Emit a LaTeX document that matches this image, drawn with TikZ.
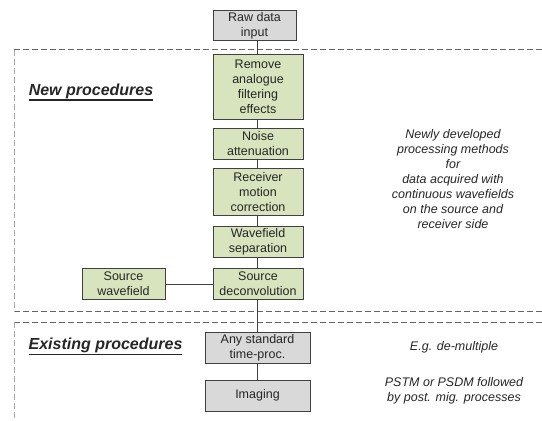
\documentclass[tikz,border=0pt]{standalone}
\usepackage{fontspec}
\setmainfont{Liberation Sans}
\newcommand{\headul}[1]{\vtop{\hbox{#1}\kern1pt\hrule height 1.1pt}}
\definecolor{boxgreen}{HTML}{D7E4BD}
\definecolor{boxgray}{HTML}{D9D9D9}
\definecolor{edge}{HTML}{404040}
\definecolor{txt}{HTML}{262626}
\begin{document}
\begin{tikzpicture}[x=1pt, y=-1pt, font=\fontsize{12.5}{15}\selectfont, text=txt,
  stage/.style={draw=edge, line width=0.9pt, align=center, inner sep=0pt},
  newstage/.style={stage, fill=boxgreen},
  oldstage/.style={stage, fill=boxgray},
  zone/.style={draw=black!60, line width=0.9pt, dash pattern=on 6pt off 3pt},
  link/.style={draw=edge, line width=0.9pt},
  note/.style={align=center, font=\fontsize{12.5}{15}\selectfont\itshape},
  heading/.style={font=\fontsize{16}{19}\selectfont\bfseries\itshape}]
\useasboundingbox (0,0) rectangle (542,421);
% Bereiche (rechts abgeschnitten)
\begin{scope}
\clip (0,0) rectangle (542,421);
\draw[zone] (14,49.5) -- (560,49.5); \draw[zone] (14,311) -- (560,311);
\draw[zone, draw=black!35] (14,49.5) -- (14,311);
\draw[zone] (14,322) -- (560,322);
\draw[zone, draw=black!35] (14,322) -- (14,430);
\end{scope}
% Verarbeitungsschritte
\node[oldstage, minimum width=83pt, minimum height=30pt] (raw) at (254.5,25.5) {Raw data\\input};
\node[newstage, minimum width=90pt, minimum height=65pt] (remove) at (258,87) {Remove\\analogue\\filtering\\effects};
\node[newstage, minimum width=90pt, minimum height=31pt] (noise) at (258,144) {Noise\\attenuation};
\node[newstage, minimum width=90pt, minimum height=47.5pt] (receiver) at (258,192) {Receiver\\motion\\correction};
\node[newstage, minimum width=90pt, minimum height=31pt] (wavefield) at (258,241.5) {Wavefield\\separation};
\node[newstage, minimum width=90pt, minimum height=31pt] (srcdec) at (258,284) {Source\\deconvolution};
\node[newstage, minimum width=83pt, minimum height=31pt] (srcwf) at (123.5,284) {Source\\wavefield};
\node[oldstage, minimum width=105pt, minimum height=31pt] (anystd) at (257.5,348) {Any standard\\time-proc.};
\node[oldstage, minimum width=105pt, minimum height=31pt] (imaging) at (257.5,395.5) {Imaging};
% Verbindungen
\coordinate (spine) at (257,0);
\draw[link] (raw.south -| spine) -- (remove.north -| spine);
\draw[link] (remove.south -| spine) -- (noise.north -| spine);
\draw[link] (noise.south -| spine) -- (receiver.north -| spine);
\draw[link] (receiver.south -| spine) -- (wavefield.north -| spine);
\draw[link] (wavefield.south -| spine) -- (srcdec.north -| spine);
\draw[link] (srcdec.south -| spine) -- (anystd.north -| spine);
\draw[link] (anystd.south -| spine) -- (imaging.north -| spine);
\draw[link] (srcwf) -- (srcdec);
% Beschriftungen
\node[heading] (newlbl) at (91,92) {\headul{New procedures}};
\node[heading] (oldlbl) at (105.5,346.5) {\headul{Existing procedures}};
\node[note] (newnote) at (453,179) {Newly developed\\processing methods\\for\\data acquired with\\continuous wavefields\\on the source and\\receiver side};
\node[note] (eg) at (454,347) {E.g. de-multiple};
\node[note] (pstm) at (454,391) {PSTM or PSDM followed\\by post. mig. processes};
\end{tikzpicture}
\end{document}
